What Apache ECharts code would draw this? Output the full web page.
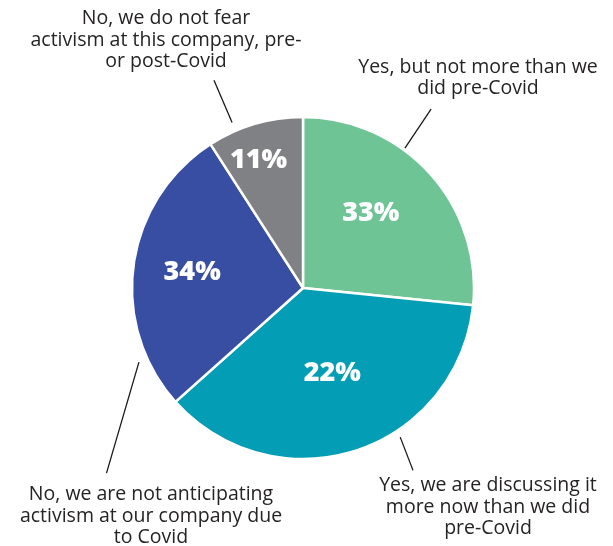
<!DOCTYPE html>
<html>
<head>
<meta charset="utf-8">
<script src="https://cdn.jsdelivr.net/npm/echarts@6/dist/echarts.min.js"></script>
<style>
html,body{margin:0;padding:0;background:#fff;}
#chart{width:613px;height:546px;}
</style>
</head>
<body>
<div id="chart"></div>
<script>
// ---- data ----
const categories = [
  "Yes, but not more than we did pre-Covid",
  "Yes, we are discussing it more now than we did pre-Covid",
  "No, we are not anticipating activism at our company due to Covid",
  "No, we do not fear activism at this company, pre- or post-Covid"
];
// slice sizes as drawn in the picture (share of the circle, %)
const sliceShares = [26.6, 36.8, 27.5, 9.1];
// percentages printed on the slices
const printedLabels = ["33%", "22%", "34%", "11%"];
// category text broken into lines as shown
const categoryLines = [
  ["Yes, but not more than we", "did pre-Covid"],
  ["Yes, we are discussing it", "more now than we did", "pre-Covid"],
  ["No, we are not anticipating", "activism at our company due", "to Covid"],
  ["No, we do not fear", "activism at this company, pre-", "or post-Covid"]
];

// ---- style ----
const colors = ["#6FC495", "#039EB5", "#374EA2", "#808184"];
const CX = 303, CY = 288, R = 171;
// inner label polar placement: [angle deg clockwise from top, radius px]
const innerLabelPolar = [[42.2, 101], [161, 90], [278.2, 112], [340.8, 135]];
// leader line polar: [angleStart, rStart, angleEnd, rEnd] (deg clockwise from top, px)
const leaderPolar = [
  [36.1, 173, 35.6, 220],
  [146.9, 178, 148.9, 213],
  [245.7, 180, 226.7, 270],
  [336.8, 180, 336.8, 226]
];
// outer text block centre offsets from pie centre
const outerTextOffset = [[175, -210], [185, 219], [-152, 228], [-137, -248]];

function polar(angDeg, r) {
  const a = angDeg * Math.PI / 180;
  return [CX + r * Math.sin(a), CY - r * Math.cos(a)];
}

const data = categories.map((c, i) => ({
  name: c,
  value: sliceShares[i],
  itemStyle: { color: colors[i] }
}));

const chart = echarts.init(document.getElementById('chart'), null, { renderer: 'canvas' });
chart.setOption({
  backgroundColor: '#ffffff',
  animation: false,
  series: [
    {
      type: 'pie',
      center: [CX, CY],
      radius: [0, R],
      startAngle: 90,
      clockwise: true,
      avoidLabelOverlap: false,
      silent: true,
      data: data,
      itemStyle: { borderColor: '#ffffff', borderWidth: 2.5 },
      label: {
        show: true,
        position: 'inside',
        formatter: p => printedLabels[p.dataIndex],
        color: '#ffffff',
        fontFamily: 'Open Sans',
        fontWeight: 800,
        fontSize: 27
      },
      labelLine: { show: false },
      labelLayout: function (p) {
        const i = p.dataIndex;
        const pt = polar(innerLabelPolar[i][0], innerLabelPolar[i][1]);
        return { x: pt[0], y: pt[1], align: 'center', verticalAlign: 'middle' };
      }
    },
    {
      type: 'pie',
      center: [CX, CY],
      radius: [0, R],
      startAngle: 90,
      clockwise: true,
      avoidLabelOverlap: false,
      silent: true,
      z: 1,
      data: data.map(d => ({ name: d.name, value: d.value })),
      itemStyle: { color: 'rgba(0,0,0,0)', borderWidth: 0 },
      label: {
        show: true,
        position: 'outside',
        formatter: p => categoryLines[p.dataIndex].join('\n'),
        color: '#262324',
        fontFamily: 'Open Sans',
        fontSize: 19.5,
        lineHeight: 21.5,
        align: 'center'
      },
      labelLine: { show: true, lineStyle: { color: '#1a1a1a', width: 1.3 } },
      labelLayout: function (p) {
        const i = p.dataIndex;
        const lp = leaderPolar[i];
        const a = polar(lp[0], lp[1]);
        const b = polar(lp[2], lp[3]);
        return {
          x: CX + outerTextOffset[i][0],
          y: CY + outerTextOffset[i][1],
          align: 'center',
          verticalAlign: 'middle',
          labelLinePoints: [a, b, b]
        };
      }
    }
  ]
});
</script>
</body>
</html>
